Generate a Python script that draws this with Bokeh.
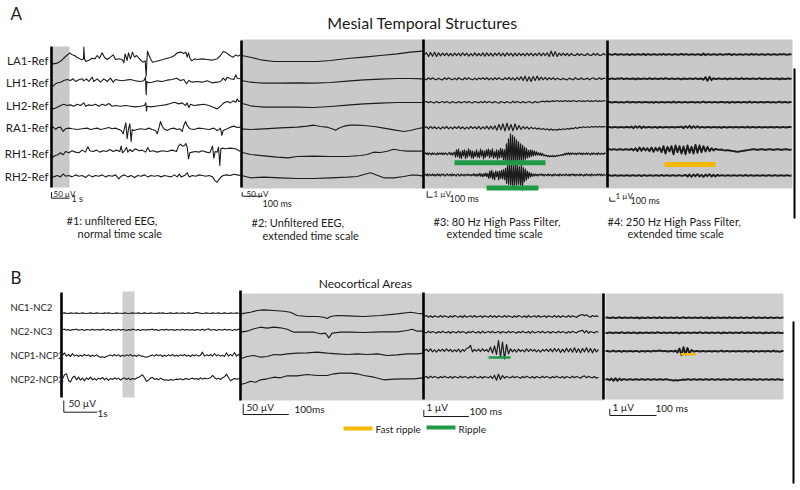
import numpy as np
from bokeh.plotting import figure
from bokeh.models import Range1d
from bokeh.embed import file_html
from bokeh.resources import INLINE
from bokeh.core.properties import value

# ---------------- DATA (amplitude units = 1/3 px, time = panel samples) -------------
CH_A = ["LA1-Ref", "LH1-Ref", "LH2-Ref", "RA1-Ref", "RH1-Ref", "RH2-Ref"]
CH_B = ["NC1-NC2", "NC2-NC3", "NCP1-NCP2", "NCP2-NCP3"]

# Panel A#1 : (time, amplitude) pairs
A1_LA1 = [(0,0),(8,-10),(20,-8),(32,-1),(45,12),(58,23),(65,17),(72,15),(80,9),(88,5),(95,2),(99,5),(100,40),(102,5),(106,-3),(115,1),(125,7),(133,5),(140,15),(147,7),(155,23),(162,9),(170,3),(180,10),(188,17),(195,3),(205,5),(215,3),(220,-7),(224,20),(230,0),(234,23),(240,5),(246,25),(252,10),(258,15),(265,7),(272,0),(278,-5),(284,-1),(287,-47),(289,-3),(291,28),(295,17),(300,5),(306,-5),(315,-3),(330,1),(345,5),(360,9),(372,15),(380,23),(392,25),(400,21),(406,25),(410,10),(414,23),(418,7),(424,-1),(432,5),(440,3),(455,5),(470,3),(485,1),(500,5),(510,15),(518,27),(528,23),(538,15),(548,10),(556,17),(562,13),(570,17)]
A1_LH1 = [(0,-12),(8,-14),(15,-7),(22,-4),(30,-2),(40,3),(50,6),(60,3),(68,8),(75,0),(85,5),(95,8),(100,2),(108,8),(115,0),(125,13),(130,0),(140,8),(150,-2),(160,8),(170,0),(180,10),(188,-2),(195,6),(205,4),(215,2),(225,4),(240,6),(255,2),(270,0),(280,2),(285,13),(287,-40),(289,0),(295,-4),(305,-2),(320,2),(335,0),(350,4),(365,6),(378,10),(390,3),(400,6),(408,-7),(415,3),(425,-2),(440,0),(455,-2),(470,2),(485,-4),(500,-2),(510,0),(518,10),(525,3),(530,13),(540,8),(550,6),(556,20),(560,10),(568,8)]
A1_LH2 = [(0,-6),(10,-8),(20,-3),(30,2),(40,6),(50,2),(60,4),(70,0),(80,6),(90,2),(100,10),(105,0),(115,4),(125,2),(135,6),(145,0),(155,6),(165,2),(175,8),(185,0),(195,2),(210,0),(225,2),(240,0),(255,-2),(270,0),(282,2),(286,10),(288,-14),(290,0),(300,-2),(315,0),(330,2),(345,4),(360,8),(372,12),(385,7),(395,10),(405,2),(410,10),(415,-4),(420,6),(430,2),(445,4),(460,6),(475,2),(490,-4),(500,-8),(510,0),(520,10),(530,14),(540,10),(548,16),(556,12),(560,22),(565,14),(570,16)]
A1_RA1 = [(0,2),(8,5),(15,-2),(22,4),(30,5),(38,-8),(45,0),(55,2),(65,0),(80,-2),(95,0),(110,2),(120,-2),(130,0),(140,2),(150,-2),(160,0),(175,4),(185,0),(195,2),(205,-2),(212,-5),(218,-15),(222,2),(226,18),(230,-30),(234,0),(238,15),(242,-38),(245,-2),(250,-5),(260,-2),(270,0),(285,-2),(295,2),(305,-2),(315,-5),(320,-15),(326,5),(330,22),(334,10),(340,0),(350,-5),(360,0),(370,2),(380,-2),(388,0),(395,-8),(400,10),(405,22),(410,10),(418,0),(430,-2),(445,2),(460,0),(475,-2),(490,2),(500,-5),(506,-2),(510,2),(514,-20),(518,-5),(530,0),(540,5),(550,8),(560,4),(570,5)]
A1_RH1 = [(0,-5),(5,-13),(10,-7),(15,-5),(22,-3),(30,3),(38,-3),(45,7),(55,3),(65,9),(75,5),(85,3),(95,11),(105,5),(112,21),(118,9),(128,7),(138,11),(148,5),(158,9),(168,7),(178,13),(188,7),(198,11),(208,7),(212,23),(216,3),(222,9),(228,19),(232,5),(238,13),(245,7),(255,15),(265,9),(275,11),(285,5),(292,19),(298,7),(308,9),(320,5),(335,9),(350,7),(365,11),(378,7),(384,23),(390,29),(396,23),(402,25),(406,31),(410,20),(414,-15),(418,3),(425,5),(435,7),(445,5),(455,9),(468,5),(478,3),(486,23),(490,-13),(494,7),(500,5),(504,20),(508,-35),(511,15),(515,17),(525,15),(540,17),(555,15),(570,7)]
A1_RH2 = [(0,-3),(10,-2),(20,2),(30,-2),(38,7),(45,0),(55,2),(65,-2),(75,4),(85,0),(95,2),(105,-4),(115,4),(125,-2),(135,2),(145,0),(155,4),(165,-2),(175,2),(185,0),(195,4),(205,-8),(212,0),(222,4),(232,-2),(242,2),(252,-4),(262,2),(272,0),(282,4),(292,-2),(302,2),(312,0),(322,2),(332,-2),(342,2),(352,0),(362,-2),(372,4),(380,-2),(386,6),(392,-2),(402,2),(410,10),(416,-2),(426,2),(436,0),(446,4),(456,2),(466,0),(476,2),(486,-2),(494,-14),(500,-18),(505,-10),(510,-4),(518,2),(528,4),(540,2),(550,6),(560,4),(570,2)]

# Panel A#2 : (time, amplitude) pairs
A2_LA1 = [(3,15),(30,10),(60,2),(100,-3),(170,-3),(230,-3),(270,0),(320,6),(370,10),(420,15),(470,20),(510,25),(545,28)]
A2_LH1 = [(3,3),(30,-2),(70,-5),(120,-5),(170,-4),(220,-5),(270,-3),(320,1),(370,5),(420,7),(470,9),(510,9),(545,8)]
A2_LH2 = [(3,7),(30,-1),(70,-5),(120,-5),(170,-5),(220,-6),(270,-3),(320,1),(370,5),(420,7),(470,9),(510,9),(545,9)]
A2_RA1 = [(3,-1),(30,-3),(70,-1),(120,2),(170,4),(200,7),(220,10),(240,6),(260,4),(275,-1),(285,-5),(295,1),(310,7),(330,10),(350,10),(370,9),(400,6),(430,1),(460,-4),(490,-9),(510,-6),(530,-1),(545,2)]
A2_RH1 = [(3,4),(30,-3),(70,-7),(110,-11),(142,-13),(170,-9),(220,-8),(270,-9),(320,-9),(360,-6),(380,-3),(400,4),(420,3),(440,7),(460,13),(480,9),(500,7),(520,7),(545,7)]
A2_RH2 = [(3,3),(30,-4),(70,-2),(120,-4),(170,-6),(220,-6),(270,-4),(320,-2),(350,0),(370,6),(390,11),(410,4),(430,-4),(460,-4),(490,0),(510,4),(530,4),(545,2)]

# Panel A#3 : uniformly sampled amplitudes
A3_LA1 = [0,5,-6,6,-5,7,-6,5,-4,4,-3,4,-4,3,-4,4,-3,4,-4,5,-3,4,-5,3,-4,5,-4,3,-4,5,-5,5,-4,4,-5,4,-3,5,-4,4,-5,5,-3,4,-5,4,-4,4,-3,3,-4,4,-3,4,-4,3,-3,5,-4,4,-3,5,-6,10,-5,8,-6,4,-3,4,-3,3,-4,3,-2,-3,3,-3,2,-2,-3,3,-2,-3,3,-2,3,-3,-2,3,-2]
A3_LH1 = [0,-3,3,-2,3,-1,-3,2,-2,-3,3,-2,3,-1,-3,2,-3,3,-1,-3,3,-2,3,-1,-3,2,-3,2,-1,3,-2,3,-3,2,-3,3,-2,3,-1,-3,3,-2,4,-3,3,-4,4,-3,6,-5,8,-7,6,-8,7,-5,8,-4,5,-3,4,-3,3,-2,3,-3,2,-1,-3,2,-2,-3,2,-1,-3,3,-1,-2,3,-2,-1,2,-3,1,3,-2,-1,3,-2,2,0]
A3_LH2 = [0,2,-2,2,-1,-2,2,-2,0,2,-2,2,-1,-2,2,-1,-2,2,-2,0,2,-2,2,-1,-2,2,0,-2,2,-2,3,-2,2,0,-2,2,-1,-3,2,0,-2,2,-1,-2,3,-2,2,0,-2,2,-2,0,2,-1,-2,2,-1,0,2,3,1,4,1,3,4,2,5,2,4,2,5,2,4,2,5,3,2,5,2,4,2,5,2,4,2,5,2,4,2,5,3]
A3_RA1 = [0,3,-3,4,-2,3,-3,2,-4,3,-2,4,-3,2,-3,3,-2,4,-3,3,-4,2,-3,4,-2,3,-3,4,-4,3,-3,5,-4,5,-4,6,-7,10,-6,12,-9,14,-7,10,-9,12,-6,7,-5,4,-3,3,-4,2,-3,0,-4,-1,-5,-2,-6,-3,-7,-4,-7,-5,-7,-4,-6,-3,-5,-2,-4,-1,-3,1,-2,2,0,3,1,3,1,4,2,4,2,4,2,4,2]
A3_RH1 = [0,3,-2,3,-3,2,1,-3,3,-2,2,-1,-3,3,-2,2,-1,3,-3,2,-2,3,0,-3,2,4,-3,3,-4,2,5,
          -10,12,-8,14,-12,6,-14,10,-6,12,-14,8,-10,15,-6,10,-12,8,-14,6,
          -8,12,-10,6,-12,14,-6,10,-15,8,-10,12,-6,14,-12,10,-8,15,-14,6,-10,12,-16,10,-12,16,-10,14,-18,12,
          -20,30,-25,45,-30,60,-32,55,-35,50,-30,42,-28,36,-25,30,-22,26,-20,20,-16,16,-12,10,
          -10,12,-8,10,-6,8,-5,6,-4,
          3,-4,2,-5,1,-6,-3,-7,-4,-8,-5,-9,-6,-8,-5,-9,-6,-8,-5,-7,-4,-6,-3,-5,-2,-4,1,-3,2,-2,3,-3,2,-2,3,0,-2,2,-3,2,0,3,-2,2,-3,2,0,-2,3,-2,2,0,-3,2,-2,3,0,-2,2,-3,3,0,-2,2,0,-2,3,0]
A3_RH2 = [0,2,-2,3,-3,2,0,-2,3,-2,2,-3,0,3,-2,2,-3,2,0,3,-2,-3,2,3,-2,0,2,-3,3,-2,2,0,-3,2,3,-2,-3,3,-1,1,-3,2,0,-2,3,-1,1,-3,2,-1,4,-3,2,-4,3,-2,5,-4,3,-5,4,-3,6,-5,4,
          -10,12,-8,14,-12,8,-14,12,-6,10,-15,12,-10,14,-12,16,-14,
          20,-25,30,-28,35,-30,32,-35,28,-32,35,-30,30,-28,25,-30,32,-45,22,-20,18,-15,12,-10,8,-6,5,
          -4,3,-3,3,-2,2,-3,2,0,3,-2,2,-3,2,0,-2,3,-2,2,0,-3,2,-2,3,0,-2,2,-3,3,0,-2,2,0,-2,3,0,-2,2,-3,2,0,3,-2,2,-3,2,0,-2,3,-2,2,0,-3,2,-2,3,0,-2,2,-3,3,0,-2,2,0,-2,3,0,2,-2,3,-2,0,2,-2]

# Panel A#4 : uniformly sampled amplitudes
A4_LA1 = [0,1,-1,0,2,-1,0,1,-1,0,1,-2,1,0,-1,1,0,-1,2,-2,1,0,-1,1,0,-1,1,-1,2,-1,0,1,-1,0,1,-1,0,2,-1,1,0,-1,1,0,-1,1,0,-2,3,-2,1,0,-1,1,0,-1,1,0,-1,1,0,2,-2,1,0,-1,1,0,-1,1,0,-1,2,-1,1,0,-1,1,0,-1,1,0,-1,1,0,-1,1,0,1,0,-1,1,0]
A4_LH1 = [0,-1,1,0,-1,1,0,2,-1,0,1,-1,0,1,-2,1,0,-1,1,0,-1,2,-1,0,1,-1,0,1,-1,2,0,-1,1,0,-1,1,0,-2,1,0,-1,1,0,-1,2,-1,0,1,-3,5,-6,6,-4,2,-1,0,1,-1,0,1,-2,1,0,-1,1,0,-1,2,-1,0,1,-1,0,1,-1,0,2,-1,0,1,-1,0,1,-1,0,1,-2,1,0,-1,1,0,0]
A4_LH2 = [0,1,-1,0,1,0,-1,1,-1,0,2,-1,0,1,-1,0,1,-1,0,1,0,-1,1,-2,1,0,-1,1,0,-1,1,0,-1,2,-1,0,1,-1,0,1,-1,0,1,0,-1,1,-1,0,2,-1,0,1,-1,0,1,-1,0,1,0,-1,1,-2,1,0,-1,1,0,-1,1,0,-1,2,-1,0,1,-1,0,1,-1,0,1,0,-1,1,-1,0,2,-1,0,1,-1,0,1]
A4_RA1 = [0,1,-1,0,1,-1,0,1,-1,0,1,-1,2,-3,3,-2,3,-3,2,-1,0,1,-1,0,1,-2,1,0,-1,1,0,-1,1,0,-1,1,0,2,-3,3,-2,4,-3,3,-2,3,-2,1,0,-1,1,0,-1,1,0,-1,1,-2,1,0,-1,1,0,-1,1,0,-1,1,0,-1,2,-1,0,1,-1,0,1,-1,0,1,-1,0,1,-1,0,1,-1,0,1,-1,0,1,0]
A4_RH1 = [0,1,-1,1,0,-1,1,0,-1,1,0,-1,2,-3,4,-5,6,-4,5,-3,4,-5,6,-7,5,-4,6,-8,10,-12,8,-6,10,-14,12,-8,10,-12,9,-14,12,-10,8,-12,14,-10,12,-8,10,-6,8,-5,4,-3,2,0,-1,0,-2,-3,-2,-3,-4,-5,-6,-7,-6,-5,-4,-3,-2,-1,0,1,0,-1,0,1,0,-1,0,1,0,-1,0,1,0,-1,0,1,0,-1,0]
A4_RH2 = [0,1,-1,0,1,-1,0,1,-1,0,1,-1,0,1,-1,0,1,-2,1,0,-1,1,0,-1,1,0,-1,2,-1,0,1,-1,0,1,-1,0,1,-1,0,2,-3,3,-4,3,-2,4,-3,2,-4,3,-2,4,-3,2,-3,2,-1,1,0,-1,1,0,-1,1,0,-1,1,0,-1,2,-1,0,1,-1,0,1,-1,0,1,-1,0,1,-1,0,1,-1,0,1,-1,0,1,-1,0]

# Panel B#1 : uniformly sampled amplitudes
B1_NC1 = [0,1,0,-1,1,0,0,1,-1,0,1,0,-1,0,1,0,-1,1,0,0,-1,1,0,1,0,-1,0,1,0,0,-1,1,0,-1,0,1,0,0,1,-1,0,1,0,-1,1,0,0,-1,1,0,1,0,-1,0,1,0,-1,1,0,0,1,-1,0,1,0,-1,1,2,1,0,-1,0,1,0,-1,1,0,0,1,-1,0,1,0,-1,1,0,0,1,0,-1]
B1_NC2 = [0,2,-1,1,-2,1,0,2,-1,0,1,-2,1,0,-1,2,-1,0,1,-1,2,0,-1,1,-2,1,0,-1,2,-1,1,0,-2,1,-1,2,0,-1,1,-2,1,0,-1,1,0,2,-1,1,-2,0,1,-1,2,-1,0,1,-2,1,0,-1,2,-1,1,0,-1,1,-2,1,0,-1,2,-1,1,3,-1,0,1,-2,1,0,-1,2,-1,1,0,-2,1,-1,2,0]
B1_NCP1 = [0,8,-2,3,-3,6,-2,2,-3,1,-2,3,-1,2,-3,1,-2,2,-3,-5,-4,-6,-3,-1,2,-2,3,-1,2,-3,1,-2,2,-1,3,-2,1,-3,2,-1,-2,-4,-5,-3,-1,2,-2,3,-1,2,-3,1,-2,2,-1,3,-2,1,-2,2,-1,3,-2,1,-3,2,-1,2,-2,1,10,-2,2,-1,3,-2,6,-1,2,-2,1,-3,8,-2,3,-1,9,-2,3,0]
B1_NCP2 = [0,12,15,-5,-10,4,8,-3,5,-4,2,-6,3,-2,5,-3,1,-4,2,-1,4,-3,2,-5,1,-2,3,-1,2,-4,1,3,-2,2,-3,1,-1,2,4,8,12,3,-8,-4,2,4,-2,1,-3,2,-1,-4,-3,-5,-2,-4,-3,-1,-2,0,-3,-1,1,-2,0,2,-1,1,-2,3,-1,2,0,1,3,10,4,-1,2,-2,3,6,14,4,-6,-2,1,-1,0,2]

# Panel B#2 : (time, amplitude) pairs
B2_NC1 = [(0,-2),(30,3),(50,8),(70,10),(100,8),(130,6),(150,3),(170,-7),(200,-10),(230,-10),(250,-12),(260,-16),(270,-10),(290,-7),(320,-8),(370,-10),(420,-7),(470,-2),(510,3),(530,0),(548,-2)]
B2_NC2 = [(0,-5),(20,-2),(40,5),(60,10),(80,7),(100,10),(120,8),(140,4),(160,-5),(190,-5),(220,-5),(240,-10),(255,-8),(265,-22),(275,-8),(300,-5),(330,-5),(370,-6),(420,-4),(470,-4),(500,0),(515,4),(530,-2),(548,-2)]
B2_NCP1 = [(0,-10),(20,-3),(40,0),(60,-5),(80,-3),(100,3),(120,2),(140,5),(170,7),(200,8),(230,10),(260,7),(290,5),(320,3),(350,5),(380,3),(410,5),(440,0),(470,2),(500,5),(530,5),(548,7)]
B2_NCP2 = [(0,-18),(15,-14),(30,-8),(45,-11),(60,-4),(80,-1),(100,4),(120,2),(140,8),(170,8),(200,12),(230,9),(260,9),(280,14),(300,16),(330,16),(350,14),(370,9),(400,4),(430,-4),(460,-2),(490,-1),(520,-1),(548,2)]

# Panel B#3 : uniformly sampled amplitudes
B3_NC1 = [0,3,-2,2,-3,2,0,-2,3,-2,2,0,-3,2,-2,3,0,-2,2,-3,3,-2,0,2,-2,3,-2,0,2,-3,2,0,-2,3,-2,2,-3,2,0,-2,3,-2,2,0,-3,2,-2,3,0,-2,2,-3,3,-2,0,2,-2,3,-2,0,2,-3,2,0,-2,3,-2,2,-3,2,0,-2,3,-2,2,0,-3,2,4,6,2,5,1,-2,3,0,2,0]
B3_NC2 = [0,-2,3,-2,2,0,-3,2,-2,3,0,-2,2,-3,2,0,-2,3,-2,2,0,-3,2,-2,3,0,-2,2,-3,3,-2,0,2,-2,3,-2,0,2,-3,2,0,-2,3,-2,2,0,-3,2,-2,3,0,-2,2,-3,3,-2,0,2,-2,3,-2,0,2,-3,2,0,-2,3,-2,2,0,-3,2,-2,3,0,-2,2,4,6,-2,5,-3,2,0,-2,2,0]
B3_NCP1 = [0,4,-3,5,-4,2,-5,3,-2,4,-3,5,-2,3,-4,2,-3,4,-5,3,-2,6,8,15,-4,3,-2,4,-3,5,-2,3,-4,10,-8,14,-12,30,-20,25,-25,18,-10,5,-4,3,-5,4,-3,2,-4,5,-3,4,-2,3,-4,2,-5,3,-2,4,-3,5,-4,6,-3,5,-6,4,-5,7,-4,6,-5,8,-6,5,-7,6,-4,8,-5,6,-7,5,-4,3]
B3_NCP2 = [0,2,-3,3,-2,2,0,-3,2,-2,3,0,-2,2,-3,2,0,-2,3,-2,2,0,-3,2,-2,3,0,-2,2,-3,2,0,-2,3,-4,6,-9,9,-7,5,-3,2,0,-2,3,-2,2,0,-3,2,-2,3,0,-2,2,-3,2,0,-2,3,-2,2,0,-3,2,-2,3,0,-2,2,-3,2,0,-2,3,-2,2,0,-3,2,4,-2,3,0,-2,2,-3,0]

# Panel B#4 : uniformly sampled amplitudes
B4_NC1 = [0,1,-1,0,1,-1,0,2,-1,0,1,-1,0,1,-1,0,1,-2,1,0,-1,1,0,-1,1,0,-1,2,-1,0,1,-1,0,1,-1,0,1,-1,0,2,-1,0,1,-1,0,1,-1,0,1,-1,0,1,-2,1,0,-1,1,0,-1,1,0,-1,2,-1,0,1,-1,0,1,-1,0,1,-1,0,2,-1,0,1,-1,0,1,-1,0,1,-1,0,1,-1,0,1]
B4_NC2 = [0,-1,1,0,-1,1,0,-1,2,0,-1,1,0,-1,1,0,-2,1,0,-1,1,0,-1,1,0,-1,2,0,-1,1,0,-1,1,0,-1,1,0,-2,1,0,-1,1,0,-1,1,0,-1,2,0,-1,1,0,-1,1,0,-1,1,0,-2,1,0,-1,1,0,-1,1,0,-1,2,0,-1,1,0,-1,1,0,-1,1,0,-2,1,0,-1,1,0,-1,1,0,-1,0]
B4_NCP1 = [0,1,-1,0,2,-1,0,1,-2,1,0,-1,1,0,-1,1,0,-2,1,0,-1,1,0,-1,2,0,1,2,1,0,1,-1,0,1,-1,2,-4,8,-12,12,-10,10,-8,4,-1,0,1,-1,0,1,-1,0,1,-1,0,1,-1,0,2,-1,0,1,-1,0,1,-1,0,1,-1,0,1,-1,0,1,-2,1,0,-1,1,0,-1,1,0,-1,2,-1,0,-2,0,1]
B4_NCP2 = [0,1,-2,3,-4,4,-4,3,-2,1,0,-1,1,0,-1,1,0,-1,1,0,-1,1,0,-1,1,0,-1,1,0,-1,1,0,-1,-2,-3,-2,-3,-2,-1,0,-1,1,0,-1,1,0,-1,1,0,-1,1,0,-1,1,0,-1,1,0,-1,1,0,-1,1,0,-1,1,0,-1,1,0,-1,1,0,-1,1,0,-1,1,0,-1,1,0,-1,1,0,-1,1,0,-1,0]

# HFO events: panel, channel index, start/end (panel samples), kind
EV_PANEL = ["A3", "A3", "A4", "B3", "B4"]
EV_CHAN = [4, 5, 4, 2, 2]
EV_START = [30, 62, 57, 64, 75]
EV_END = [121, 114, 108, 86, 90]
EV_KIND = ["Ripple", "Ripple", "Fast ripple", "Ripple", "Fast ripple"]

TITLE_A = "Mesial Temporal Structures"
TITLE_B = "Neocortical Areas"
CAPTIONS_A = [("#1: unfiltered EEG,", "normal time scale"),
              ("#2: Unfiltered EEG,", "extended time scale"),
              ("#3: 80 Hz High Pass Filter,", "extended time scale"),
              ("#4: 250 Hz High Pass Filter,", "extended time scale")]
SCALE_A = [("50 µV", "1 s"), ("50 µV", "100 ms"), ("1 µV", "100 ms"), ("1 µV", "100 ms")]
SCALE_B = [("50 µV", "1s"), ("50 µV", "100ms"), ("1 µV", "100 ms"), ("1 µV", "100 ms")]
LEGEND = ["Fast ripple", "Ripple"]

# ---------------- LAYOUT / STYLE -------------
FONT = value("Lato")
INK = "#1c1c1c"
GRAY_A = "#c9c9c9"
GRAY_B = "#d1ced1"
COL = {"Ripple": "#1e9a47", "Fast ripple": "#f6b700"}

PANELS = {
    "A1": dict(kind="pairs", x0=50, rows=[60, 81, 105.7, 128.3, 153.3, 175.7], lw=1.1,
               data=[A1_LA1, A1_LH1, A1_LH2, A1_RA1, A1_RH1, A1_RH2]),
    "A2": dict(kind="pairs", x0=240, rows=[60, 81, 105, 128, 153, 176], lw=1.1,
               data=[A2_LA1, A2_LH1, A2_LH2, A2_RA1, A2_RH1, A2_RH2]),
    "A3": dict(kind="uni", x0=424, x1=605, rows=[54, 78.3, 101.7, 127.3, 153.3, 174.5], lw=1.2,
               data=[A3_LA1, A3_LH1, A3_LH2, A3_RA1, A3_RH1, A3_RH2]),
    "A4": dict(kind="uni", x0=607, x1=791, rows=[54, 78.3, 101.7, 126.7, 149, 175], lw=1.9,
               data=[A4_LA1, A4_LH1, A4_LH2, A4_RA1, A4_RH1, A4_RH2]),
    "B1": dict(kind="uni", x0=62, x1=240, rows=[312.7, 329.3, 355, 378.3], lw=1.1,
               data=[B1_NC1, B1_NC2, B1_NCP1, B1_NCP2]),
    "B2": dict(kind="pairs", x0=240, rows=[312.7, 330, 355, 378], lw=1.1,
               data=[B2_NC1, B2_NC2, B2_NCP1, B2_NCP2]),
    "B3": dict(kind="uni", x0=424, x1=598, rows=[316, 331.7, 350, 376.7], lw=1.2,
               data=[B3_NC1, B3_NC2, B3_NCP1, B3_NCP2]),
    "B4": dict(kind="uni", x0=605, x1=783, rows=[317.3, 332.3, 350.7, 379], lw=1.9,
               data=[B4_NC1, B4_NC2, B4_NCP1, B4_NCP2]),
}
EV_DY = {"A3": [0, 0, 0, 0, 9, 13], "A4": [0, 0, 0, 0, 15, 0], "B3": [0, 0, 7, 0], "B4": [0, 0, 3, 0]}
EV_LW = {"A3": 5, "A4": 5, "B3": 2.5, "B4": 2.5}

p = figure(width=800, height=490, x_range=Range1d(0, 800), y_range=Range1d(490, 0),
           output_backend="svg", toolbar_location=None, min_border=0,
           x_axis_location=None, y_axis_location=None)
p.grid.visible = False
p.outline_line_color = None

# shaded windows
p.quad(left=[52, 241], right=[69, 792], top=[46, 39], bottom=[187, 188], fill_color=GRAY_A, line_color=None)
p.quad(left=[122, 241, 605], right=[134, 603, 783], top=[291, 293, 293], bottom=[397, 400, 399],
       fill_color=GRAY_B, line_color=None)

# traces
for key, P in PANELS.items():
    xs_all, ys_all = [], []
    for row, d in zip(P["rows"], P["data"]):
        if P["kind"] == "pairs":
            t = np.array([q[0] for q in d], float)
            v = np.array([q[1] for q in d], float)
            x = P["x0"] + t / 3.0
        else:
            v = np.array(d, float)
            x = np.linspace(P["x0"], P["x1"], len(v))
        xs_all.append(list(x))
        ys_all.append(list(row - v / 3.0))
    p.multi_line(xs_all, ys_all, line_color=INK, line_width=P["lw"], line_join="round")

# panel bars
p.segment(x0=[51, 241, 423, 607, 61, 240, 423, 603], y0=[46, 40, 39, 40, 292, 290, 292, 293],
          x1=[51, 241, 423, 607, 61, 240, 423, 603], y1=[187, 187, 188, 187, 397, 400, 399, 399],
          line_color="black", line_width=2.6)
p.segment(x0=[794, 793], y0=[68, 321], x1=[794, 793], y1=[218, 483], line_color="black", line_width=2)

# HFO events
for pn, ch, s, e, k in zip(EV_PANEL, EV_CHAN, EV_START, EV_END, EV_KIND):
    P = PANELS[pn]
    y = P["rows"][ch] + EV_DY[pn][ch]
    p.segment(x0=[P["x0"] + s], y0=[y], x1=[P["x0"] + e], y1=[y], line_color=COL[k],
              line_width=EV_LW[pn], line_cap="butt")

# legend
p.segment(x0=[343, 426], y0=[428, 427], x1=[372, 455], y1=[428, 427],
          line_color=[COL[LEGEND[0]], COL[LEGEND[1]]], line_width=4, line_cap="butt")
p.text(x=[375, 458], y=[428, 428], text=LEGEND, text_font=FONT, text_font_size=value("10px"),
       text_baseline="middle", text_align="left", text_color=INK)

# scale bars
sb = [  # (x, y_top, y_corner, x_end)
    (51, 191.7, 197.7, 69), (241.7, 191.7, 195.7, 261.7), (426.7, 190.7, 196.7, 432.3), (609.3, 196.7, 200.7, 615),
    (63.3, 400, 411.7, 96.7), (242.7, 403.3, 414, 288.3), (423.3, 409.3, 416, 468.3), (609.3, 408.3, 415, 656)]
p.multi_line([[a[0], a[0], a[3]] for a in sb], [[a[1], a[2], a[2]] for a in sb], line_color=INK, line_width=1)
p.text(x=[53, 246, 433, 615], y=[193, 193, 193.3, 195], text=[s[0] for s in SCALE_A], text_font=FONT,
       text_font_size=value("8px"), text_baseline="middle", text_color=INK)
p.text(x=[71, 262, 449, 630], y=[198, 203, 198, 199.5], text=[s[1] for s in SCALE_A], text_font=FONT,
       text_font_size=value("9px"), text_baseline="middle", text_color=INK)
p.text(x=[68, 246, 426, 612], y=[402, 406.7, 406.7, 406.7], text=[s[0] for s in SCALE_B], text_font=FONT,
       text_font_size=value("10px"), text_baseline="middle", text_color=INK)
p.text(x=[97, 294, 469, 655], y=[412, 408.3, 410, 407], text=[s[1] for s in SCALE_B], text_font=FONT,
       text_font_size=value("10px"), text_baseline="middle", text_color=INK)

# channel labels
p.text(x=[48] * 6, y=[60, 82, 105, 127, 153, 176], text=CH_A, text_font=FONT, text_font_size=value("11.5px"),
       text_align="right", text_baseline="middle", text_color=INK)
p.text(x=[10] * 4, y=[307, 331, 355, 379], text=CH_B, text_font=FONT, text_font_size=value("9.5px"),
       text_align="left", text_baseline="middle", text_color=INK)

# captions
p.text(x=[66, 251, 433, 607], y=[220, 222, 221, 221], text=[c[0] for c in CAPTIONS_A], text_font=FONT,
       text_font_size=value("11px"), text_baseline="middle", text_color=INK)
p.text(x=[77, 262, 446, 627], y=[233, 235, 233, 233], text=[c[1] for c in CAPTIONS_A], text_font=FONT,
       text_font_size=value("11px"), text_baseline="middle", text_color=INK)

# titles and panel letters
p.text(x=[422, 365], y=[22, 283], text=[TITLE_A, TITLE_B], text_font=FONT,
       text_font_size=["16px", "12px"], text_align="center", text_baseline="middle", text_color=INK)
p.text(x=[10, 10], y=[13, 277], text=["A", "B"], text_font=FONT, text_font_size=value("17px"),
       text_baseline="middle", text_color=INK)

open("out.html", "w").write(file_html(p, INLINE))
